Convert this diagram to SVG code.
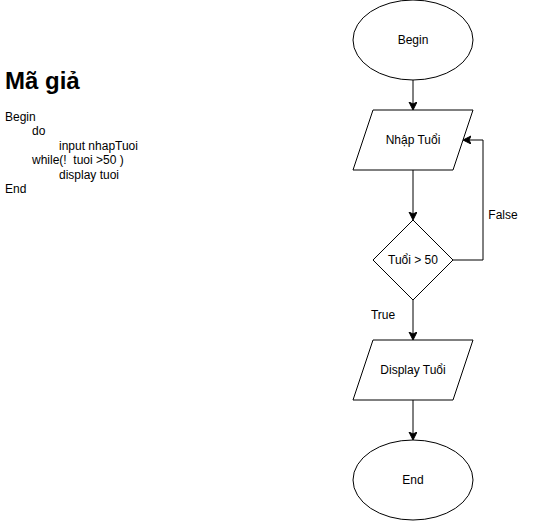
<svg xmlns="http://www.w3.org/2000/svg" width="534" height="521" viewBox="0 0 534 521">
<style>
.s{fill:#fff;stroke:#000;stroke-width:1}
.t{font-family:"Liberation Sans",Arial,sans-serif;font-size:12px;fill:#000}
.c{text-anchor:middle;dominant-baseline:central}
.l{fill:none;stroke:#000;stroke-width:1}
</style>
<defs>
<marker id="a" markerWidth="10" markerHeight="10" refX="7" refY="4" orient="auto" markerUnits="userSpaceOnUse">
<path d="M0,0 L8,4 L0,8 L2,4 Z" fill="#000" stroke="#000" stroke-width="1"/>
</marker>
</defs>
<rect width="534" height="521" fill="#fff"/>
<g id="pseudo">
<text x="5" y="89" font-family="Liberation Sans,Arial,sans-serif" font-size="24" font-weight="bold">Mã giả</text>
<text class="t" x="5" y="121" font-size="11">Begin</text>
<text class="t" x="32" y="135" font-size="11">do</text>
<text class="t" x="59" y="150" font-size="11">input nhapTuoi</text>
<text class="t" x="32" y="164" font-size="11" xml:space="preserve" style="white-space:pre">while(!  tuoi &gt;50 )</text>
<text class="t" x="59" y="179" font-size="11">display tuoi</text>
<text class="t" x="5" y="193" font-size="11">End</text>
</g>
<g id="connectors">
<line class="l" x1="413" y1="80" x2="413" y2="109" marker-end="url(#a)"/>
<line class="l" x1="413" y1="170" x2="413" y2="219" marker-end="url(#a)"/>
<polyline class="l" points="453,260 483,260 483,140 464,140" marker-end="url(#a)"/>
<line class="l" x1="413" y1="300" x2="413" y2="339" marker-end="url(#a)"/>
<line class="l" x1="413" y1="400" x2="413" y2="439" marker-end="url(#a)"/>
<text class="t c" x="503" y="215">False</text>
<text class="t c" x="383" y="315">True</text>
</g>
<g id="begin">
<ellipse class="s" cx="413" cy="40" rx="60" ry="40"/>
<text class="t c" x="413" y="40">Begin</text>
</g>
<g id="nhap">
<polygon class="s" points="373,110 473,110 453,170 353,170"/>
<text class="t c" x="413" y="140">Nhập Tuổi</text>
</g>
<g id="cond">
<polygon class="s" points="413,220 453,260 413,300 373,260"/>
<text class="t c" x="413" y="260">Tuổi &gt; 50</text>
</g>
<g id="display">
<polygon class="s" points="373,340 473,340 453,400 353,400"/>
<text class="t c" x="413" y="370">Display Tuổi</text>
</g>
<g id="end">
<ellipse class="s" cx="413" cy="480" rx="60" ry="40"/>
<text class="t c" x="413" y="480">End</text>
</g>
</svg>
